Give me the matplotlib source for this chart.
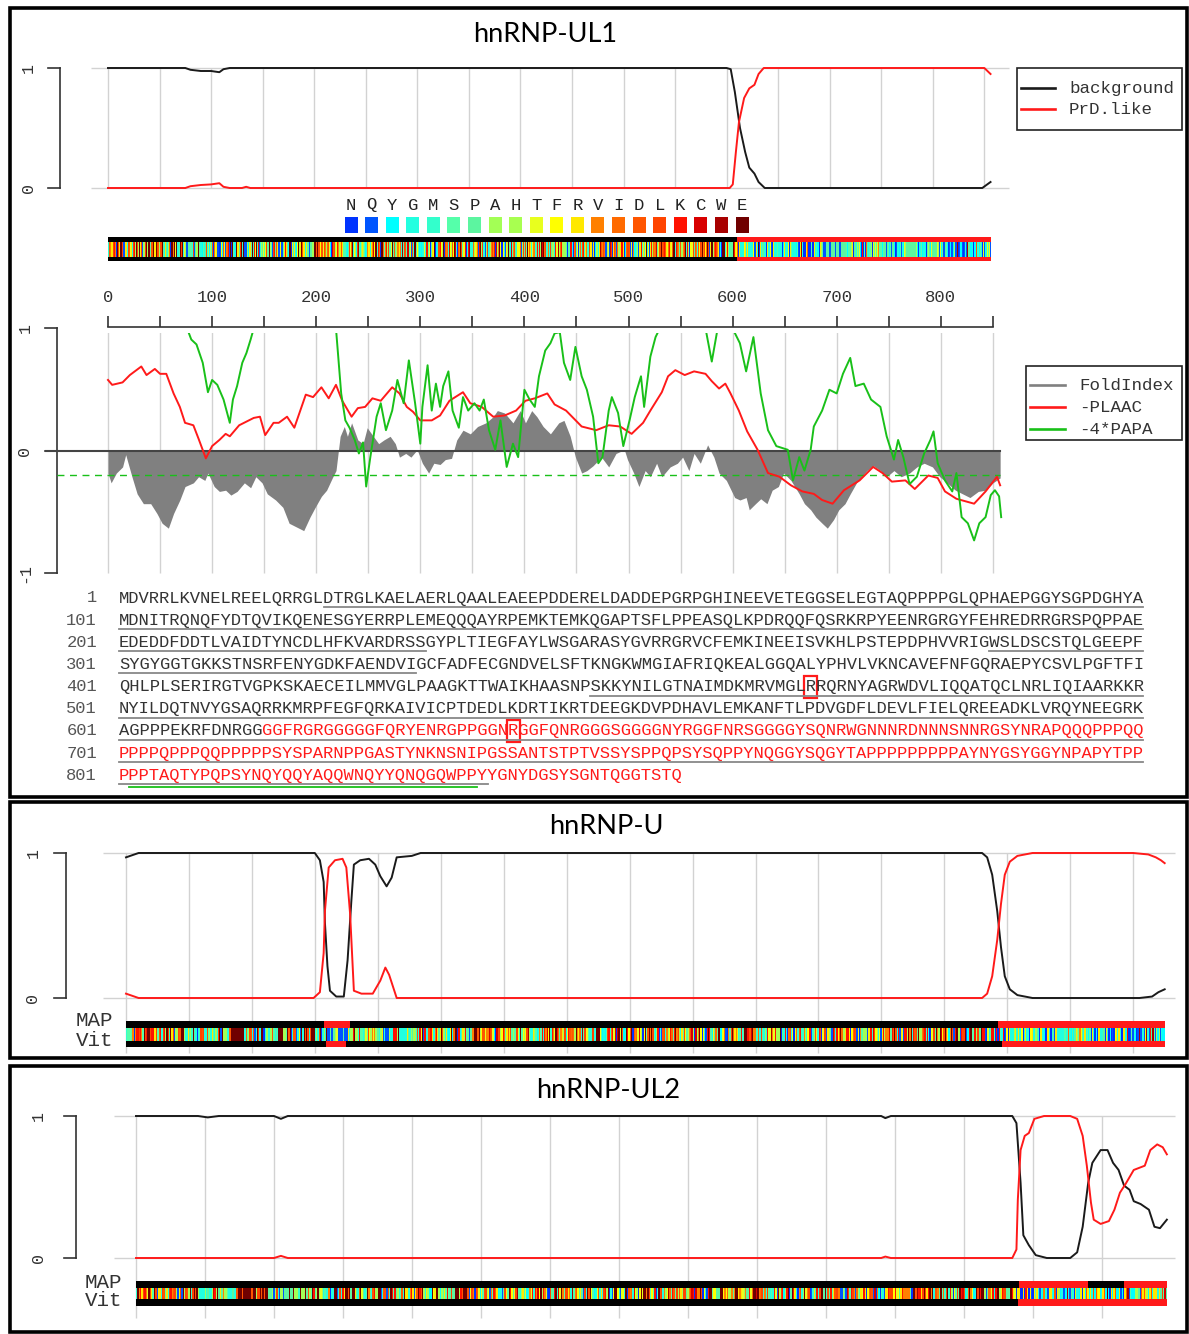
"""hnRNP-UL1 / hnRNP-U / hnRNP-UL2 PrD profile figure (PLAAC style)."""
import numpy as np
import matplotlib
matplotlib.use("Agg")
import matplotlib.pyplot as plt
from matplotlib.colors import to_rgb
from matplotlib.patches import Rectangle

W, H = 1189, 1334
MONO = "Liberation Mono"
TITLE_FONT = "Lato"
GRID = "#d2d2d2"
AXC = "#333333"
RED = "#ff1a1a"
GREEN = "#19c019"
FOLD_GRAY = "#808080"

# ---- amino-acid colour key ----
AA_ORDER = list("NQYGMSPAHTFRVIDLKCWE")
AA_COLORS = ["#0033ff", "#0055ff", "#00ffff", "#22ffe0", "#33ffcc", "#55ffaa", "#5cf5a0",
             "#a3ff55", "#a8ff50", "#e8ff1e", "#ffff00", "#ffe800", "#ff8000", "#ff6a00",
             "#ff5500", "#ff4400", "#ff1100", "#d80000", "#a80000", "#700000"]

# ---- hnRNP-UL1 sequence, as printed ----
UL1_LINES = [
    "MDVRRLKVNELREELQRRGLDTRGLKAELAERLQAALEAEEPDDERELDADDEPGRPGHINEEVETEGGSELEGTAQPPPPGLQPHAEPGGYSGPDGHYA",
    "MDNITRQNQFYDTQVIKQENESGYERRPLEMEQQQAYRPEMKTEMKQGAPTSFLPPEASQLKPDRQQFQSRKRPYEENRGRGYFEHREDRRGRSPQPPAE",
    "EDEDDFDDTLVAIDTYNCDLHFKVARDRSSGYPLTIEGFAYLWSGARASYGVRRGRVCFEMKINEEISVKHLPSTEPDPHVVRIGWSLDSCSTQLGEEPF",
    "SYGYGGTGKKSTNSRFENYGDKFAENDVIGCFADFECGNDVELSFTKNGKWMGIAFRIQKEALGGQALYPHVLVKNCAVEFNFGQRAEPYCSVLPGFTFI",
    "QHLPLSERIRGTVGPKSKAECEILMMVGLPAAGKTTWAIKHAASNPSKKYNILGTNAIMDKMRVMGLRRQRNYAGRWDVLIQQATQCLNRLIQIAARKKR",
    "NYILDQTNVYGSAQRRKMRPFEGFQRKAIVICPTDEDLKDRTIKRTDEEGKDVPDHAVLEMKANFTLPDVGDFLDEVLFIELQREEADKLVRQYNEEGRK",
    "AGPPPEKRFDNRGGGGFRGRGGGGGFQRYENRGPPGGNRGGFQNRGGGSGGGGNYRGGFNRSGGGGYSQNRWGNNNRDNNNSNNRGSYNRAPQQQPPPQQ",
    "PPPPQPPPQQPPPPPSYSPARNPPGASTYNKNSNIPGSSANTSTPTVSSYSPPQPSYSQPPYNQGGYSQGYTAPPPPPPPPPAYNYGSYGGYNPAPYTPP",
    "PPPTAQTYPQPSYNQYQQYAQQWNQYYQNQGQWPPYYGNYDGSYSGNTQGGTSTQ",
]
UL1_LINE_STARTS = [1, 101, 201, 301, 401, 501, 601, 701, 801]
UL1_RED_FROM = 615                      # first residue printed in red
UL1_UNDERLINES = [(0, 21, 100), (1, 1, 100), (2, 1, 30), (2, 86, 100), (3, 1, 29),
                  (4, 47, 100), (5, 1, 100), (6, 1, 100), (7, 1, 100), (8, 1, 36)]
UL1_GREEN_UNDERLINE = (8, 2, 35)
UL1_BOXED = [(4, 68), (6, 39)]
UL1_LEN = 856
UL1_PRD = (610, 856)

# hnRNP-U and hnRNP-UL2 residues (drive the colour bars)
U_SEQ = ("MSSSPVNVKKLKVSELKEELKKRRLSDKGLKAELMERLQAALDDEEAGGRPAMEPGNGSLDLGGDSAGRSGAGLEQEAAAGGDEEEEEEEEEEEG"
         "ISALDGDQMELGEENGAAGAADSGPMEEEEAASEDENGDDQGFQEGEDELGDEEEGAGDENGHGEQQPQPPATQQQQPQQQRGAAKEAAGKSSGPT"
         "SLFAVTVAPPGARQGQQQAGGKKKAEGGGGGGRPGAPAAGDGKTEQKGGDKKRGVKRPREDHGRGYFEYIEENKYSRAKSPQPPVEEEDEHFDDTV"
         "VCLDTYNCDLHFKISRDRLSASSLTMESFAFLWAGGRASYGVSKGKVCFEMKVTEKIPVRHLYTKDIDIHEVRIGWSLTTSGMLLGEEEFSYGYSL"
         "KGIKTCNCETEDYGEKFDENDVITCFANFESDEVELSYAKNGQDLGVAFKISKEVLAGRPLFPHVLCHNCAVEFNFGQKEKPYFPIPEEYTFIQNV"
         "PLEDRVRGPKGPEEKKDCEVVMMIGLPGAGKTTWVTKHAAENPGKYNILGTNTIMDKMMVAGFKKQMADTGKLNTLLQRAPQCLGKFIEIAARKKR"
         "NFILDQTNVSAAAQRRKMCLFAGFQRKAVVVCPKDEDYKQRTQKKAEVEGKDLPEHAVLKMKGNFTLPEVAECFDEITYVELQKEEAQKLLEQYKE"
         "ESKKALPPEKKQNTGSKKSNKNKSGKNQFNRGGGHRGRGGFNMRGGNFRGGAPGNRGGYNRRGNMPQRGGGGGGSGGIGYPYPRAPVFPGRGSYSN"
         "RGNYNRGGMPNRGNYNQNFRGRGNNRGYKNQSQGYNQWQQGQFWGQKPWSQHYHQGYY")
U_LEN = 825
UL2_SEQ = ("MEVKRLKVTELRSELQRRGLDSRGLKVDLAQRLQEALDAEMLEDEAGGGGAGPGGACKAEPRPVAASGGGPGGDEEEDEEEEEEDEEALLEDEDEE"
           "PPPAQALGQAAQPPPEPPEAAAMEAAAEPDASEKPAEATAGSGGVNGGEEQGLGKREEDEPEERSGDETPGSEVPGDKAAEEQGDDQDSEKSKPAG"
           "SDGERRGVKRQRDEKDEHGRAYYEFREEAYHSRSKSPLPPEEEAKDEEEDQTLVNLDTYTSDLHFQVSKDRYGGQPLFSEKFPTLWSGARSTYGVT"
           "KGKVCFEAKVTQNLPMKEGCTEVSLLRVGWSVDFSRPQLGEDEFSYGFDGRGLKAENGQFEEFGQTFGENDVIGCFANFETEEVELSFSKNGEDLG"
           "VAFWISKDSLADRALLPHVLCKNCVVELNFGQKEEPFFPPPEEFVFIHAVPVEERVRTAVPPKTIEECEVILMVGLPGSGKTQWALKYAKENPEKR"
           "YNVLGAETVLNQMRMKGLEEPEMDPKSRDLLVQQASQCLSKLVQIASRTKRNFILDQCNVYNSGQRRKLLLFKTFSRKVVVVVPNEEDWKKRLELR"
           "KEVEGDDVPESIMLEMKANFSLPEKCDYMDEVTYGELEKEEAQPIVTKYKEEARKLLPPSEKRTNRRNNRNKRNRQNRSRGQGYVGGQRRGYDNRA"
           "YGQQYWGQPGNRGGYRNFYDRYRGDYDRFYGRDYEYNRYRDYYRQYNRDWQSYYYHHPQDRDRHYRDYRRRGRPLSCS")
UL2_LEN = 747

U_MAP_RED = [(157, 178), (693, 825)]
U_VIT_RED = [(159, 175), (696, 825)]
UL2_MAP_RED = [(640, 690), (716, 747)]
UL2_VIT_RED = [(639, 747)]

# ---- posterior curves (residue, probability) ----
UL1_BACKGROUND = [(0, 1.0), (75, 1.0), (80, 0.985), (90, 0.975), (100, 0.975), (108, 0.965), (112, 0.99),
                  (118, 1.0), (600, 1.0), (604, 0.99), (608, 0.8), (613, 0.5), (618, 0.3), (622, 0.17),
                  (627, 0.12), (631, 0.05), (637, 0.0), (848, 0.0), (856, 0.05)]
UL1_PRDLIKE = [(0, 0.0), (75, 0.0), (80, 0.015), (90, 0.025), (100, 0.03), (108, 0.04), (112, 0.01),
               (118, 0.0), (130, 0.0), (134, 0.01), (138, 0.0), (603, 0.0), (606, 0.03), (609, 0.3),
               (612, 0.55), (617, 0.75), (622, 0.83), (627, 0.86), (631, 0.95), (636, 1.0), (850, 1.0),
               (856, 0.95)]
U_BACKGROUND = [(0, 0.97), (10, 1.0), (150, 1.0), (154, 0.95), (157, 0.80), (158, 0.52), (160, 0.22),
                (162, 0.05), (167, 0.01), (173, 0.01), (176, 0.26), (179, 0.67), (181, 0.92), (186, 0.95),
                (193, 0.96), (198, 0.92), (202, 0.84), (207, 0.77), (211, 0.83), (215, 0.97), (227, 0.98),
                (234, 1.0), (680, 1.0), (684, 0.97), (688, 0.85), (692, 0.6), (695, 0.35), (698, 0.15),
                (702, 0.06), (708, 0.02), (720, 0.0), (805, 0.0), (815, 0.01), (820, 0.04), (825, 0.06)]
U_PRDLIKE = [(0, 0.03), (10, 0.0), (149, 0.0), (154, 0.04), (157, 0.31), (158, 0.60), (161, 0.90),
             (166, 0.95), (172, 0.96), (175, 0.90), (178, 0.58), (181, 0.05), (187, 0.03), (196, 0.03),
             (202, 0.12), (206, 0.21), (209, 0.16), (215, 0.0), (680, 0.0), (684, 0.03), (688, 0.15),
             (692, 0.4), (695, 0.65), (698, 0.85), (702, 0.94), (708, 0.98), (720, 1.0), (800, 1.0),
             (812, 0.99), (818, 0.97), (822, 0.95), (825, 0.93)]
UL2_BACKGROUND = [(0, 1.0), (45, 1.0), (52, 0.99), (60, 1.0), (100, 1.0), (105, 0.98), (110, 1.0),
                  (540, 1.0), (543, 0.985), (547, 1.0), (635, 1.0), (638, 0.95), (641, 0.53), (643, 0.16),
                  (647, 0.09), (652, 0.02), (660, 0.0), (677, 0.0), (682, 0.04), (686, 0.22), (690, 0.53),
                  (693, 0.67), (699, 0.76), (704, 0.76), (708, 0.67), (712, 0.62), (716, 0.51), (720, 0.48),
                  (723, 0.40), (728, 0.38), (734, 0.34), (738, 0.22), (742, 0.21), (747, 0.27)]
UL2_PRDLIKE = [(0, 0.0), (100, 0.0), (105, 0.015), (110, 0.0), (540, 0.0), (543, 0.01), (547, 0.0),
               (635, 0.0), (638, 0.06), (639, 0.41), (641, 0.76), (644, 0.86), (647, 0.88), (651, 0.98),
               (658, 1.0), (677, 1.0), (682, 0.98), (686, 0.86), (689, 0.65), (692, 0.39), (694, 0.27),
               (699, 0.24), (705, 0.26), (709, 0.34), (713, 0.46), (717, 0.52), (723, 0.62), (731, 0.65),
               (735, 0.76), (740, 0.80), (744, 0.78), (747, 0.73)]

# ---- hnRNP-UL1 disorder / PLAAC / PAPA tracks ----
FOLDINDEX = [(0, -0.18), (3, -0.26), (8, -0.18), (14, -0.13), (17, -0.03), (23, -0.21), (28, -0.35),
             (34, -0.43), (41, -0.43), (47, -0.51), (52, -0.59), (58, -0.63), (63, -0.51), (69, -0.40),
             (74, -0.29), (82, -0.26), (87, -0.21), (93, -0.24), (96, -0.18), (102, -0.29), (107, -0.33),
             (113, -0.32), (118, -0.36), (124, -0.33), (131, -0.26), (137, -0.30), (142, -0.21),
             (148, -0.26), (153, -0.35), (161, -0.40), (168, -0.46), (174, -0.59), (181, -0.62),
             (188, -0.65), (194, -0.54), (199, -0.46), (205, -0.37), (210, -0.32), (216, -0.21),
             (219, -0.16), (223, 0.12), (227, 0.20), (230, 0.12), (234, 0.23), (240, 0.09), (245, 0.06),
             (249, 0.19), (254, 0.13), (260, 0.06), (265, 0.09), (271, 0.12), (276, 0.06), (280, -0.05),
             (286, -0.02), (291, -0.05), (297, 0.01), (302, -0.10), (308, -0.18), (313, -0.10),
             (319, -0.11), (324, -0.07), (330, -0.06), (335, 0.09), (341, 0.17), (348, 0.14), (355, 0.20),
             (363, 0.23), (370, 0.28), (374, 0.33), (381, 0.31), (389, 0.23), (396, 0.33), (401, 0.23),
             (407, 0.33), (412, 0.28), (418, 0.20), (425, 0.14), (433, 0.23), (438, 0.25), (444, 0.12),
             (449, -0.05), (455, -0.18), (460, -0.16), (466, -0.12), (474, -0.05), (481, -0.13),
             (488, -0.02), (496, 0.01), (499, -0.07), (505, -0.18), (510, -0.29), (516, -0.16),
             (521, -0.21), (527, -0.10), (532, -0.21), (540, -0.13), (547, -0.10), (552, -0.05),
             (558, -0.16), (563, -0.02), (569, -0.10), (576, 0.05), (582, -0.05), (587, -0.18),
             (594, -0.24), (602, -0.38), (607, -0.40), (613, -0.38), (616, -0.48), (622, -0.43),
             (627, -0.39), (633, -0.43), (638, -0.32), (644, -0.29), (649, -0.18), (656, -0.24),
             (664, -0.35), (669, -0.43), (675, -0.48), (680, -0.54), (686, -0.59), (691, -0.63),
             (697, -0.56), (702, -0.48), (708, -0.43), (713, -0.35), (719, -0.26), (724, -0.21),
             (729, -0.16), (735, -0.12), (742, -0.16), (748, -0.21), (755, -0.16), (762, -0.21),
             (770, -0.18), (777, -0.13), (784, -0.10), (792, -0.13), (799, -0.21), (806, -0.26),
             (814, -0.32), (821, -0.35), (828, -0.38), (836, -0.33), (843, -0.32), (850, -0.26), (857, -0.22)]
NEG_PLAAC = [(0, 0.58), (4, 0.54), (14, 0.56), (21, 0.62), (32, 0.69), (37, 0.62), (45, 0.67), (50, 0.63),
             (56, 0.63), (63, 0.47), (69, 0.36), (74, 0.23), (82, 0.21), (87, 0.10), (94, -0.06), (100, 0.04),
             (107, 0.09), (113, 0.14), (117, 0.12), (126, 0.21), (133, 0.24), (140, 0.27), (146, 0.28),
             (151, 0.13), (159, 0.23), (164, 0.23), (172, 0.28), (179, 0.19), (190, 0.46), (197, 0.44),
             (205, 0.52), (212, 0.43), (219, 0.54), (225, 0.41), (234, 0.28), (240, 0.35), (247, 0.36),
             (254, 0.43), (262, 0.41), (273, 0.52), (280, 0.47), (287, 0.36), (293, 0.32), (300, 0.25),
             (311, 0.25), (319, 0.29), (328, 0.41), (341, 0.48), (348, 0.39), (359, 0.36), (370, 0.28),
             (381, 0.29), (392, 0.33), (401, 0.41), (410, 0.43), (422, 0.47), (429, 0.38), (440, 0.33),
             (455, 0.20), (469, 0.17), (481, 0.21), (492, 0.20), (503, 0.14), (514, 0.23), (521, 0.33),
             (532, 0.48), (538, 0.61), (545, 0.66), (554, 0.62), (563, 0.65), (574, 0.63), (580, 0.57),
             (587, 0.51), (593, 0.55), (598, 0.47), (606, 0.33), (614, 0.16), (624, 0.01), (634, -0.18),
             (645, -0.21), (656, -0.28), (667, -0.33), (678, -0.35), (686, -0.40), (696, -0.43),
             (707, -0.32), (722, -0.24), (735, -0.13), (744, -0.18), (753, -0.25), (766, -0.24),
             (775, -0.31), (788, -0.20), (797, -0.22), (804, -0.33), (815, -0.39), (832, -0.43),
             (843, -0.33), (854, -0.21), (857, -0.28)]
NEG4_PAPA = [(0, 1.4), (74, 1.02), (76, 1.0), (80, 0.91), (85, 0.87), (91, 0.72), (96, 0.48), (100, 0.58),
             (105, 0.54), (111, 0.42), (117, 0.23), (120, 0.42), (124, 0.53), (129, 0.72), (133, 0.80),
             (137, 0.91), (140, 1.0), (180, 1.6), (219, 1.0), (224, 0.47), (228, 0.25), (232, 0.19),
             (237, 0.09), (241, -0.02), (245, 0.07), (248, -0.29), (252, -0.05), (258, 0.28), (262, 0.39),
             (267, 0.17), (273, 0.33), (278, 0.58), (284, 0.39), (289, 0.74), (295, 0.39), (300, 0.06),
             (302, 0.36), (307, 0.70), (311, 0.33), (315, 0.55), (319, 0.36), (322, 0.53), (327, 0.65),
             (331, 0.33), (337, 0.19), (341, 0.44), (346, 0.33), (352, 0.39), (357, 0.33), (361, 0.42),
             (366, 0.17), (372, 0.01), (377, 0.25), (383, -0.13), (389, 0.06), (394, -0.05), (400, 0.50),
             (405, 0.42), (410, 0.36), (414, 0.61), (420, 0.82), (425, 0.88), (429, 0.96), (434, 0.97),
             (438, 0.72), (444, 0.58), (449, 0.85), (455, 0.61), (460, 0.50), (466, 0.28), (471, -0.10),
             (475, -0.05), (481, 0.33), (484, 0.44), (490, 0.31), (495, 0.04), (501, 0.25), (506, 0.44),
             (512, 0.61), (515, 0.36), (521, 0.77), (526, 0.93), (530, 1.0), (552, 1.3), (574, 1.0),
             (580, 0.73), (585, 0.97), (592, 1.2), (600, 1.0), (607, 0.88), (613, 0.65), (620, 0.93),
             (627, 0.47), (634, 0.17), (642, 0.04), (653, 0.01), (658, -0.24), (664, -0.05), (669, -0.16),
             (675, 0.01), (678, 0.20), (686, 0.33), (693, 0.50), (700, 0.47), (706, 0.63), (713, 0.76),
             (718, 0.53), (726, 0.55), (733, 0.42), (742, 0.36), (748, 0.12), (755, -0.07), (759, 0.09),
             (764, -0.05), (770, -0.27), (777, -0.21), (784, -0.02), (790, 0.09), (793, 0.16), (797, -0.10),
             (804, -0.24), (811, -0.33), (815, -0.18), (820, -0.54), (826, -0.59), (832, -0.73),
             (837, -0.59), (843, -0.54), (848, -0.36), (852, -0.32), (856, -0.37), (858, -0.54)]
PAPA_THRESHOLD = -0.2


def add_axes_px(fig, box, x0, xs, y0=None, ys=None):
    """Axes over a pixel box; x in residues (residue 0 at pixel x0, xs px/residue).
    y in data units (0 at pixel y0, ys px/unit) or, without y0, in pixels."""
    l, t, r, b = box
    ax = fig.add_axes([l / W, 1 - b / H, (r - l) / W, (b - t) / H])
    ax.set_xlim((l - x0) / xs, (r - x0) / xs)
    if y0 is None:
        ax.set_ylim(b, t)
    else:
        ax.set_ylim((y0 - b) / ys, (y0 - t) / ys)
    ax.axis("off")
    ax.px = (x0, xs, y0, ys)
    return ax


def res_at(ax, px):
    return (px - ax.px[0]) / ax.px[1]


def val_at(ax, py):
    return (ax.px[2] - py) / ax.px[3]


def bracket_axis(ax, x_px, ticks, labels, label_px):
    xb, xt = res_at(ax, x_px), res_at(ax, x_px - 12)
    ax.plot([xb, xb], [min(ticks), max(ticks)], color=AXC, lw=1.2, clip_on=False)
    for v, lab in zip(ticks, labels):
        ax.plot([xt, xb], [v, v], color=AXC, lw=1.2, clip_on=False)
        ax.text(res_at(ax, label_px), v, lab, rotation=90, ha="center", va="center",
                family=MONO, fontsize=12, color=AXC, clip_on=False)


def prob_plot(ax, bg, prd, grid_max, hgrid_px, vgrid_bottom_px, bracket_px, label_px):
    ax.hlines([0, 1], res_at(ax, hgrid_px[0]), res_at(ax, hgrid_px[1]), color=GRID, lw=1, zorder=1)
    ax.vlines(np.arange(0, grid_max + 1, 50), val_at(ax, vgrid_bottom_px), 1, color=GRID, lw=1, zorder=1)
    bx, by = zip(*bg)
    rx, ry = zip(*prd)
    ax.plot(bx, by, color="#1a1a1a", lw=1.4, zorder=3)
    ax.plot(rx, ry, color=RED, lw=1.4, zorder=3)
    bracket_axis(ax, bracket_px, [1, 0], ["1", "0"], label_px)


def seq_rgb(seq):
    lut = {aa: to_rgb(c) for aa, c in zip(AA_ORDER, AA_COLORS)}
    return np.array([[lut.get(a, (0, 0, 0)) for a in seq]])


def seq_bar(ax, seq, n_len, rows, map_red, vit_red):
    t0, t1, t2, t3 = rows
    xl, yl = ax.get_xlim(), ax.get_ylim()
    ax.add_patch(Rectangle((0, t0), n_len, t3 - t0, color="black", lw=0, zorder=1))
    for s, e in map_red:
        ax.add_patch(Rectangle((s, t0), e - s, t1 - t0, color=RED, lw=0, zorder=2))
    for s, e in vit_red:
        ax.add_patch(Rectangle((s, t2), e - s, t3 - t2, color=RED, lw=0, zorder=2))
    ax.imshow(seq_rgb(seq), extent=(0, n_len, t2, t1), aspect="auto",
              interpolation="nearest", zorder=3)
    ax.set_xlim(xl)
    ax.set_ylim(yl)


def legend_box(canvas, box, entries, line_x, text_x):
    l, t, r, b = box
    canvas.add_patch(Rectangle((l, t), r - l, b - t, fill=False, ec="#222222", lw=1.2))
    for label, color, y in entries:
        canvas.plot(line_x, [y, y], color=color, lw=1.9)
        canvas.text(text_x, y, label, ha="left", va="center", family=MONO,
                    fontsize=12.6, color="#333333")


fig = plt.figure(figsize=(W / 100, H / 100), dpi=100)
canvas = fig.add_axes([0, 0, 1, 1])
canvas.set_xlim(0, W)
canvas.set_ylim(H, 0)
canvas.axis("off")

# panel frames and titles
for (l, t, r, b) in [(10, 8, 1187, 797), (10, 802, 1187, 1058), (10, 1066, 1187, 1332)]:
    canvas.add_patch(Rectangle((l, t), r - l, b - t, fill=False, ec="black", lw=2.6))
for title, (x, y) in [("hnRNP-UL1", (545, 35)), ("hnRNP-U", (606, 826)), ("hnRNP-UL2", (608, 1090))]:
    canvas.text(x, y, title, ha="center", va="center", family=TITLE_FONT, fontsize=19.5, color="black")

# ---------------- panel 1: hnRNP-UL1 ----------------
ax1 = add_axes_px(fig, (20, 55, 1010, 200), 108, 1.031, 188, 120)
prob_plot(ax1, UL1_BACKGROUND, UL1_PRDLIKE, 850, (91, 1009), 188, 60, 28)
legend_box(canvas, (1017, 68, 1182, 130), [("background", "#1a1a1a", 88), ("PrD.like", RED, 109)],
           [1021, 1055], 1069)

# amino-acid colour key
for i, (aa, col) in enumerate(zip(AA_ORDER, AA_COLORS)):
    xc = 351 + 20.58 * i
    canvas.text(xc, 205, aa, ha="center", va="center", family=MONO, fontsize=12.4, color="#222222")
    canvas.add_patch(Rectangle((xc - 6.5, 217), 13, 16, color=col, lw=0))

bar1 = add_axes_px(fig, (20, 234, 1010, 264), 108, 1.031)
seq_bar(bar1, "".join(UL1_LINES), UL1_LEN, (237, 242, 257, 261), [UL1_PRD], [UL1_PRD])

# residue ruler
ruler = add_axes_px(fig, (20, 285, 1010, 333), 108, 1.041)
ruler.plot([0, 850], [327, 327], color=AXC, lw=1.2, clip_on=False)
ruler.vlines(np.arange(0, 851, 50), 316, 327, color=AXC, lw=1.2)
for v in range(0, 801, 100):
    ruler.text(v, 298, str(v), ha="center", va="center", family=MONO, fontsize=12.4, color="#333333")

# FoldIndex / PLAAC / PAPA
ax2 = add_axes_px(fig, (20, 333, 1010, 580), 108, 1.041, 451, 122.5)
ax2.vlines(np.arange(0, 851, 50), -1, 1, color=GRID, lw=1, zorder=1)
fx, fy = zip(*FOLDINDEX)
ax2.fill_between(fx, 0, fy, color=FOLD_GRAY, lw=0, zorder=2)
ax2.plot([res_at(ax2, 46), res_at(ax2, 1000)], [0, 0], color="#444444", lw=1.5, zorder=3, clip_on=False)
ax2.plot([res_at(ax2, 57), res_at(ax2, 1000)], [PAPA_THRESHOLD] * 2, color=GREEN, lw=1.0,
         ls=(0, (5, 4)), zorder=3)
px_, py_ = zip(*NEG_PLAAC)
ax2.plot(px_, py_, color=RED, lw=1.4, zorder=4)
gx, gy = zip(*NEG4_PAPA)
ax2.plot(gx, gy, color=GREEN, lw=1.4, zorder=5)
bracket_axis(ax2, 57, [1, 0, -1], ["1", "0", "-1"], 25)
legend_box(canvas, (1026, 366, 1182, 440),
           [("FoldIndex", FOLD_GRAY, 385), ("-PLAAC", RED, 407), ("-4*PAPA", GREEN, 429)],
           [1030, 1065], 1079)

# sequence listing
CW = 10.24
for i, (line, start) in enumerate(zip(UL1_LINES, UL1_LINE_STARTS)):
    y = 598 + 22.15 * i
    canvas.text(97, y, str(start), ha="right", va="center", family=MONO, fontsize=12.3, color="#555555")
    split = min(max(UL1_RED_FROM - start, 0), len(line))
    if split > 0:
        canvas.text(119, y, line[:split], ha="left", va="center", family=MONO, fontsize=12.3,
                    color="#333333")
    if split < len(line):
        canvas.text(119 + split * CW, y, line[split:], ha="left", va="center", family=MONO,
                    fontsize=12.3, color=RED)
for li, s, e in UL1_UNDERLINES:
    y = 598 + 22.15 * li + 9
    canvas.plot([119 + (s - 1) * CW, 119 + e * CW], [y, y], color="#888888", lw=1.3)
li, s, e = UL1_GREEN_UNDERLINE
yg = 598 + 22.15 * li + 12
canvas.plot([119 + (s - 1) * CW, 119 + e * CW], [yg, yg], color=GREEN, lw=1.3)
for li, pos in UL1_BOXED:
    y = 598 + 22.15 * li
    canvas.add_patch(Rectangle((119 + (pos - 1) * CW - 1.5, y - 11), CW + 3, 22,
                               fill=False, ec=RED, lw=1.6))

# ---------------- panel 2: hnRNP-U ----------------
ax3 = add_axes_px(fig, (20, 840, 1180, 1055), 126, 1.259, 998, 145)
prob_plot(ax3, U_BACKGROUND, U_PRDLIKE, 800, (103, 1175), 1053, 66, 33)
canvas.text(113, 1021, "MAP", ha="right", va="center", family=MONO, fontsize=15, color="#333333")
canvas.text(113, 1040, "Vit", ha="right", va="center", family=MONO, fontsize=15, color="#333333")
bar2 = add_axes_px(fig, (20, 1018, 1180, 1050), 126, 1.259)
seq_bar(bar2, U_SEQ, U_LEN, (1021, 1028, 1041, 1047), U_MAP_RED, U_VIT_RED)

# ---------------- panel 3: hnRNP-UL2 ----------------
ax4 = add_axes_px(fig, (20, 1100, 1180, 1320), 136, 1.38, 1258, 142)
prob_plot(ax4, UL2_BACKGROUND, UL2_PRDLIKE, 700, (114, 1175), 1318, 76, 38)
canvas.text(122, 1283, "MAP", ha="right", va="center", family=MONO, fontsize=15, color="#333333")
canvas.text(122, 1301, "Vit", ha="right", va="center", family=MONO, fontsize=15, color="#333333")
bar3 = add_axes_px(fig, (20, 1278, 1180, 1310), 136, 1.38)
seq_bar(bar3, UL2_SEQ, UL2_LEN, (1281, 1288, 1299, 1306), UL2_MAP_RED, UL2_VIT_RED)

fig.savefig("out.png", dpi=100)
